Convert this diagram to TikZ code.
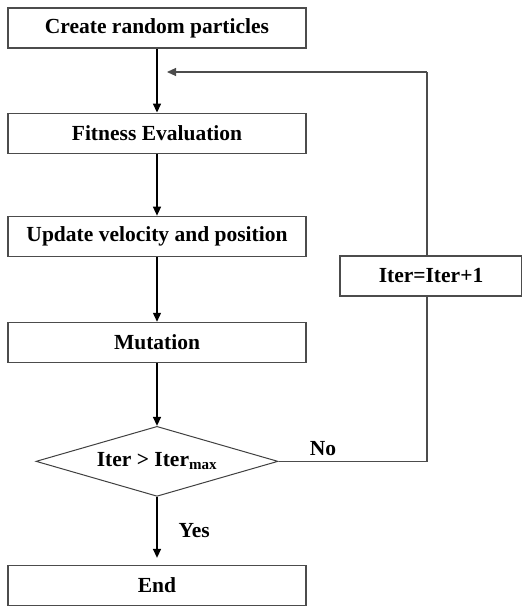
\documentclass[tikz,border=0pt]{standalone}
\usepackage{fontspec}
\setmainfont{Liberation Serif}
\usetikzlibrary{positioning, arrows.meta, shapes.geometric, backgrounds}
\newcommand{\flowfont}{\fontsize{21.5pt}{24pt}\selectfont\bfseries}

\begin{document}
\begin{tikzpicture}[
  stepbox/.style={draw=black!70, line width=1.1pt, fill=white, minimum width=298pt,
                  minimum height=40pt, inner sep=2pt, font=\flowfont},
  decision/.style={diamond, draw=black!75, line width=1pt, fill=white, aspect=3.46,
                   minimum width=242pt, minimum height=70pt, inner sep=0pt, font=\flowfont},
  arr/.style={-{Triangle[length=9pt, width=8pt]}, line width=1.4pt, color=black},
  backline/.style={line width=1.1pt, color=black!70},
  lbl/.style={font=\flowfont, text=black, inner sep=0pt},
]
\useasboundingbox (0,0) rectangle (522pt,-608pt);

% Main column
\node[stepbox] (create) at (157pt,-28pt) {Create random particles};
\node[stepbox, below=64pt of create] (fitness) {Fitness Evaluation};
\node[stepbox, below=62pt of fitness] (update) {Update velocity and position};
\node[stepbox, below=65pt of update] (mutation) {Mutation};
\node[decision, below=63pt of mutation] (check) {Iter > Iter\textsubscript{max}};
\node[stepbox, below=68pt of check] (finish) {End};

% Loop back
\node[stepbox, minimum width=182pt] (iter) at (431pt,-276pt) {Iter=Iter+1};
\coordinate (corner) at (427pt,-72pt);
\coordinate (loopin) at ([xshift=10pt]create.south |- corner);

% Arrows
\begin{scope}[on background layer]
  \draw[arr] (create) -- (fitness);
  \draw[arr] (fitness) -- (update);
  \draw[arr] (update) -- (mutation);
  \draw[arr] (mutation) -- (check);
  \draw[arr, shorten >=7pt] (check) -- node[lbl, right=21pt] {Yes} (finish);
  \draw[backline] (check.east) -- node[lbl, above=5pt, pos=0.3] {No} (check.east -| corner)
    -- (corner);
  \draw[arr, line width=1.1pt, color=black!70] (corner) -- (loopin);
\end{scope}

\end{tikzpicture}
\end{document}
